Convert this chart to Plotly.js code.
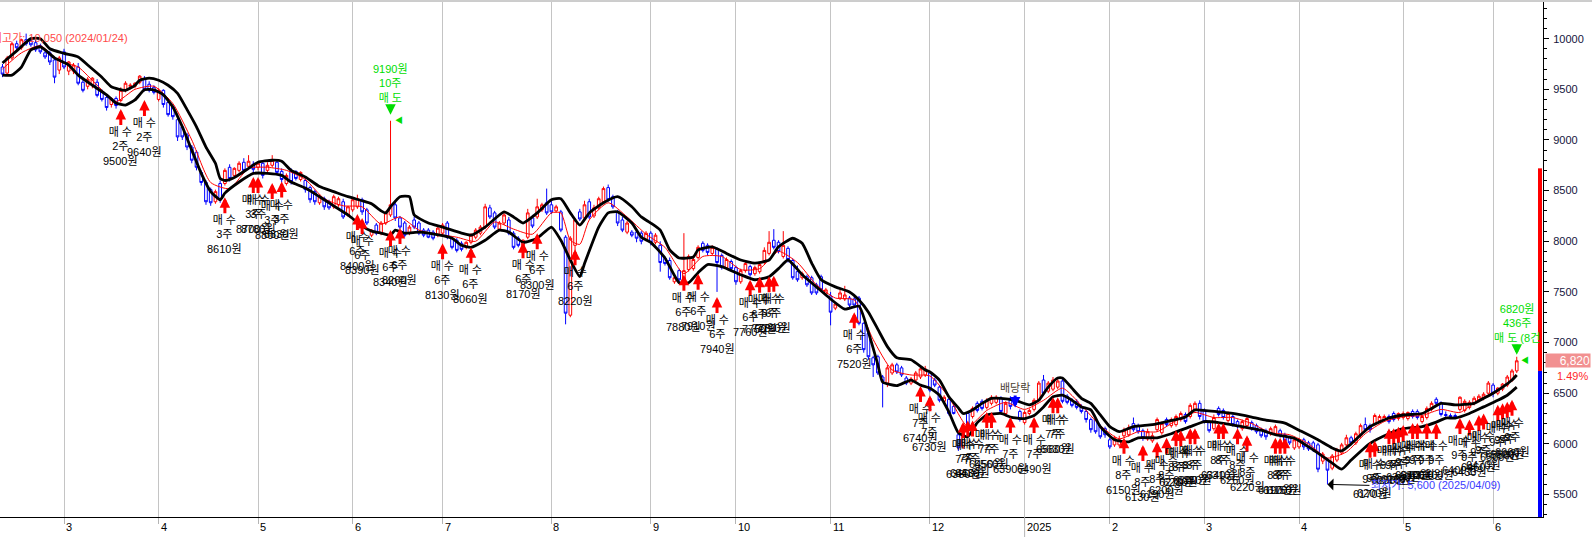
<!DOCTYPE html>
<html><head><meta charset="utf-8">
<script src="https://cdn.plot.ly/plotly-3.0.1.min.js"></script>
<style>html,body{margin:0;padding:0;background:#fff;}#chart{width:1592px;height:537px;}</style>
</head><body><div id="chart"></div>
<script>
// ---- calendar (trading days per month, first month partial) ----
const monthLabels  = ['', '3','4','5','6','7','8','9','10','11','12','2025','2','3','4','5','6'];
const monthLengths = [13,20,21,20,19,23,21,18,20,21,20,18,20,20,22,19,6];

// ---- daily candles ----
const open = [
9720,9660,9810,9950,9910,9990,9980,9960,9930,9860,
9860,9790,9690,9870,9680,9680,9720,9570,9530,9540,
9570,9480,9420,9350,9410,9390,9490,9530,9530,9570,
9600,9550,9520,9400,9490,9370,9330,9200,9130,9050,
8930,8880,8680,8580,8510,8390,8570,8570,8730,8650,
8700,8780,8740,8760,8730,8770,8700,8750,8780,8690,
8570,8690,8690,8610,8600,8530,8490,8380,8420,8390,
8340,8360,8390,8260,8310,8340,8410,8310,8060,8160,
8080,8180,8260,8360,8230,8180,8080,8210,8180,8110,
8110,8090,8060,8080,8180,8030,8010,7980,7940,7990,
8040,8080,8140,8330,8280,8120,8180,8210,8080,8030,
7960,8040,8230,8240,8310,8380,8360,8300,8290,8040,
7270,7960,8290,8230,8390,8250,8330,8390,8530,8440,
8290,8210,8090,8090,8090,8080,8020,8080,7990,7960,
7830,7810,7600,7710,7620,7720,7730,7840,7980,7960,
7880,7920,7860,7740,7800,7740,7600,7710,7750,7680,
7700,7790,7880,8010,7990,7850,7930,7810,7700,7640,
7650,7640,7570,7650,7480,7460,7340,7440,7430,7440,
7430,7440,7190,7090,6850,6860,6660,6600,6700,6780,
6750,6650,6600,6630,6660,6680,6700,6630,6560,6420,
6440,6370,6090,5970,6300,6270,6400,6420,6360,6400,
6410,6450,6300,6450,6450,6320,6210,6300,6340,6430,
6630,6520,6540,6560,6620,6470,6430,6420,6370,6320,
6240,6240,6170,6150,6040,5990,5990,6080,6090,6200,
6180,6130,6050,6030,6140,6110,6240,6180,6190,6240,
6290,6270,6340,6400,6330,6210,6150,6350,6330,6230,
6270,6220,6150,6180,6210,6180,6140,6130,6100,6100,
6130,6090,6060,5960,5970,6040,6010,6010,5990,5830,
5840,5760,5840,5910,5990,6060,6010,6080,6190,6180,
6200,6230,6240,6270,6300,6250,6260,6250,6320,6320,
6220,6260,6340,6440,6400,6290,6280,6280,6340,6330,
6360,6400,6430,6450,6500,6580,6500,6540,6580,6630,
6720];
const high = [
9750,9830,9970,9980,10000,10050,10010,9990,9950,9890,
9880,9820,9830,9900,9780,9760,9760,9600,9620,9620,
9600,9500,9440,9420,9430,9520,9580,9560,9570,9640,
9630,9580,9540,9510,9500,9380,9350,9220,9150,9070,
8950,8900,8700,8600,8530,8510,8600,8720,8760,8730,
8790,8820,8850,8790,8780,8800,8780,8850,8810,8720,
8670,8720,8700,8690,8620,8550,8510,8460,8440,8410,
8460,8440,8420,8350,8420,8460,8430,8330,8120,8180,
8200,8300,9190,8400,8250,8200,8160,8240,8200,8130,
8130,8110,8150,8180,8200,8050,8030,8000,8000,8080,
8130,8160,8370,8360,8300,8200,8280,8240,8100,8050,
8020,8320,8260,8420,8380,8520,8400,8360,8310,8060,
8050,8230,8320,8400,8420,8360,8440,8540,8560,8460,
8310,8240,8200,8110,8120,8100,8100,8100,8080,8000,
7850,7840,7650,7730,8080,7870,7840,7960,8000,7980,
7960,7940,7880,7840,7820,7760,7730,7800,7770,7760,
7790,7940,8100,8120,8010,8100,7950,7830,7760,7700,
7670,7660,7590,7670,7540,7500,7400,7530,7560,7460,
7450,7460,7200,7100,6870,6880,6680,6780,6800,6800,
6770,6670,6660,6720,6760,6770,6720,6650,6580,6480,
6460,6390,6110,6150,6320,6370,6420,6440,6450,6480,
6480,6470,6420,6470,6470,6340,6330,6350,6450,6620,
6680,6620,6660,6640,6640,6490,6450,6440,6390,6340,
6260,6260,6190,6170,6060,6080,6080,6160,6190,6260,
6200,6150,6150,6110,6260,6220,6260,6260,6290,6320,
6310,6400,6420,6430,6350,6230,6290,6370,6350,6320,
6290,6240,6240,6270,6230,6200,6160,6150,6170,6190,
6150,6110,6080,6060,6060,6060,6030,6030,6010,5920,
5860,5900,5960,6010,6090,6080,6120,6200,6260,6200,
6300,6290,6290,6290,6320,6310,6320,6320,6340,6340,
6280,6370,6420,6460,6420,6320,6300,6300,6470,6440,
6430,6470,6490,6510,6620,6600,6560,6600,6680,6740,
6860];
const low = [
9620,9640,9790,9890,9890,9930,9920,9870,9850,9800,
9740,9560,9650,9700,9640,9650,9540,9470,9500,9510,
9420,9380,9290,9320,9310,9370,9470,9500,9510,9550,
9480,9470,9450,9380,9320,9230,9200,8990,9000,8900,
8770,8700,8550,8360,8350,8370,8380,8550,8590,8630,
8680,8680,8720,8680,8700,8620,8680,8730,8650,8580,
8550,8560,8600,8590,8480,8380,8360,8360,8310,8310,
8320,8340,8220,8240,8290,8320,8260,8160,8040,8060,
8060,8160,8240,8200,8120,8040,8060,8120,8060,8040,
8030,8010,8040,8060,8020,7920,7890,7900,7920,7970,
8020,8060,8120,8220,8120,8100,8160,8060,7920,7940,
7940,8020,8130,8220,8290,8260,8270,8280,8090,7180,
7250,7900,8200,8210,8220,8230,8310,8370,8390,8320,
8150,8090,8070,8040,7990,7970,8000,7960,7970,7700,
7760,7620,7580,7600,7600,7700,7710,7820,7890,7860,
7860,7500,7720,7720,7710,7570,7580,7690,7650,7660,
7680,7770,7860,7920,7880,7830,7790,7620,7600,7620,
7550,7470,7470,7500,7460,7170,7320,7420,7410,7350,
7340,7170,6900,6830,6660,6680,6360,6560,6680,6690,
6660,6580,6580,6610,6640,6660,6510,6560,6410,6400,
6280,6290,5930,5950,6140,6250,6310,6330,6340,6380,
6390,6290,6280,6340,6370,6220,6190,6280,6320,6410,
6480,6500,6520,6540,6400,6390,6360,6340,6300,6210,
6110,6100,6050,6060,5950,5970,5970,6060,6070,6120,
6100,6030,6030,6010,6120,6090,6170,6160,6170,6220,
6200,6250,6320,6240,6200,6110,6130,6270,6240,6210,
6170,6150,6130,6160,6130,6100,6060,6040,6080,6080,
6060,6010,5990,5940,5950,5940,5930,5920,5720,5800,
5600,5740,5820,5890,5970,5990,5990,6060,6120,6110,
6180,6210,6220,6200,6220,6230,6240,6230,6250,6240,
6200,6240,6320,6380,6270,6260,6250,6250,6320,6310,
6340,6380,6410,6430,6480,6460,6480,6520,6560,6610,
6700];
const close = [
9650,9810,9950,9910,9990,9950,9940,9890,9870,9820,
9770,9620,9810,9720,9770,9740,9560,9490,9600,9610,
9440,9400,9320,9410,9340,9490,9560,9540,9560,9630,
9500,9490,9470,9490,9350,9250,9230,9030,9030,8930,
8800,8730,8580,8390,8380,8490,8410,8700,8620,8720,
8770,8700,8790,8710,8770,8650,8750,8800,8680,8610,
8650,8590,8620,8680,8510,8410,8390,8440,8340,8330,
8440,8420,8240,8340,8410,8420,8290,8180,8110,8080,
8180,8280,8360,8230,8140,8060,8140,8140,8080,8060,
8040,8030,8130,8160,8040,7940,7910,7920,7990,8060,
8110,8140,8340,8240,8140,8180,8260,8080,7940,7960,
8010,8280,8150,8340,8360,8280,8290,8340,8110,7290,
8030,8210,8220,8360,8240,8330,8420,8520,8410,8340,
8180,8110,8180,8060,8030,8000,8080,7990,8060,7790,
7780,7640,7640,7620,7710,7850,7820,7940,7910,7890,
7940,7790,7740,7820,7730,7600,7710,7780,7670,7740,
7770,7910,7990,7940,7900,7960,7820,7640,7620,7680,
7570,7490,7490,7520,7520,7300,7380,7490,7470,7370,
7370,7190,6930,6860,6780,6700,6620,6750,6780,6710,
6680,6600,6640,6700,6740,6740,6530,6580,6430,6460,
6300,6300,5960,6130,6170,6350,6330,6350,6430,6460,
6460,6320,6400,6370,6390,6240,6310,6330,6430,6600,
6500,6600,6630,6620,6420,6410,6380,6360,6320,6240,
6140,6120,6070,6090,5970,6060,6040,6130,6160,6140,
6120,6060,6120,6080,6240,6200,6190,6240,6270,6300,
6220,6380,6400,6270,6220,6130,6260,6290,6260,6300,
6190,6170,6220,6250,6150,6120,6080,6070,6150,6170,
6080,6030,6010,6040,6040,5970,5950,5940,5750,5900,
5740,5880,5940,5990,6060,6010,6100,6180,6140,6140,
6280,6270,6270,6220,6240,6300,6300,6310,6270,6260,
6270,6350,6400,6400,6290,6280,6270,6260,6460,6420,
6410,6450,6470,6490,6600,6500,6550,6590,6660,6720,
6820];

// ---- envelope lines (day index / price) ----
const upperIdx = [0,3,6,8,10,13,16,18,21,23,26,28,29,31,33,35,37,39,41,43,45,46,47,49,52,54,57,59,61,64,67,70,73,76,78,80,81,82,84,86,87,90,93,97,99,102,106,108,110,113,116,118,120,122,124,127,130,133,135,137,139,141,143,146,147,150,153,156,159,162,164,167,169,171,173,176,179,181,183,185,187,189,192,195,196,198,200,202,203,205,207,209,211,214,217,219,221,223,224,226,228,230,232,234,236,239,243,246,250,252,257,260,264,267,271,274,278,281,283,285,289,293,296,300,302,304,307,309,311,313,315,317,319,320];
const upperVal = [9760,9880,10000,10000,9900,9855,9820,9740,9620,9525,9490,9540,9590,9610,9590,9540,9460,9300,9130,8930,8770,8620,8600,8630,8720,8780,8800,8790,8700,8635,8540,8490,8440,8400,8370,8300,8280,8340,8440,8440,8260,8180,8140,8080,8060,8140,8290,8240,8180,8280,8410,8420,8280,8160,8280,8380,8440,8340,8240,8180,8110,7915,7835,7845,7915,7945,7880,7815,7785,7815,7945,8030,7980,7785,7620,7550,7500,7420,7300,7130,6960,6850,6830,6730,6710,6630,6465,6355,6300,6335,6400,6450,6450,6430,6385,6430,6560,6650,6650,6550,6450,6400,6285,6170,6120,6170,6190,6220,6265,6335,6315,6300,6265,6235,6205,6135,6040,5960,5930,6000,6170,6255,6285,6300,6350,6400,6385,6390,6400,6450,6500,6560,6630,6680];
const lowerIdx = [0,2,4,6,8,9,11,14,16,19,22,24,26,28,30,32,34,36,38,40,42,44,46,47,50,53,56,59,61,64,67,70,73,76,78,80,82,83,85,88,90,95,97,99,102,105,107,110,113,116,118,120,122,123,126,128,130,133,135,137,140,143,145,147,149,152,156,159,162,164,166,169,172,175,178,181,183,185,186,189,192,194,196,198,200,202,204,206,208,211,213,216,218,220,222,224,226,228,230,232,235,238,240,244,247,251,254,257,262,266,269,273,277,281,283,285,289,293,296,300,303,305,307,310,313,316,318,320];
const lowerVal = [9640,9640,9720,9890,9920,9890,9810,9740,9640,9540,9445,9365,9345,9395,9495,9495,9445,9325,9130,8900,8670,8490,8410,8475,8585,8670,8670,8650,8585,8525,8440,8350,8260,8150,8100,8080,8060,8110,8080,8090,8080,8030,7960,7940,8010,8110,8090,7990,8030,8140,8010,7815,7650,7780,8140,8280,8290,8180,8040,7990,7835,7590,7590,7690,7770,7750,7670,7620,7650,7730,7815,7670,7550,7430,7330,7360,7100,6780,6610,6575,6630,6580,6550,6480,6315,6110,6070,6210,6285,6300,6265,6250,6280,6365,6465,6480,6430,6365,6335,6170,6040,6020,6060,6060,6100,6170,6220,6210,6170,6135,6090,6055,5940,5810,5750,5840,6005,6100,6150,6170,6215,6255,6255,6300,6365,6430,6480,6560];
const maIdx = [0,4,8,12,16,20,24,28,32,36,40,44,48,52,56,60,64,68,72,76,80,84,88,92,96,100,104,108,112,116,118,120,122,124,128,132,136,140,144,148,152,156,160,164,168,172,176,180,184,188,192,196,200,204,208,212,216,220,224,228,232,236,240,244,248,252,256,260,264,268,272,276,280,284,288,292,296,300,304,308,312,316,320];
const maVal = [9700,9860,9930,9780,9720,9540,9380,9500,9530,9360,9000,8580,8520,8720,8730,8700,8610,8420,8350,8340,8170,8240,8110,8070,8040,8000,8190,8120,8070,8280,8280,8010,7970,8210,8380,8240,8070,7940,7680,7850,7850,7720,7730,7900,7790,7570,7440,7420,7030,6730,6680,6670,6460,6170,6330,6410,6340,6430,6550,6380,6180,6050,6120,6120,6230,6310,6260,6260,6200,6110,6090,6000,5860,5920,6100,6220,6270,6280,6340,6310,6440,6520,6670];

// ---- trade markers ----
const buyIdx   = [25,30,47,53,54,57,59,75,76,82,84,93,99,110,113,121,144,147,151,158,160,162,163,180,194,196,203,204,205,208,209,213,218,222,223,237,241,244,246,248,249,251,252,257,258,261,263,269,270,271,289,290,293,294,295,296,298,299,301,303,308,310,312,313,316,317,318,319];
const buyTip   = [9305,9395,8435,8635,8635,8575,8590,8270,8230,8110,8130,7980,7940,7990,8080,7920,7670,7680,7450,7620,7650,7655,7660,7300,6570,6480,6215,6230,6230,6315,6315,6265,6265,6460,6460,6060,5990,6020,6060,6135,6135,6155,6155,6205,6205,6155,6085,6060,6060,6060,6020,6030,6155,6155,6170,6185,6205,6205,6205,6205,6255,6240,6285,6300,6385,6400,6415,6435];
const buyQty   = [2,2,3,3,3,3,3,6,6,6,6,6,6,6,6,6,6,6,6,6,6,6,6,6,7,7,7,7,7,7,7,7,7,7,7,8,8,8,8,8,8,8,8,8,8,8,8,8,8,8,9,9,9,9,9,9,9,9,9,9,9,9,9,9,9,9,9,9];
const buyPrice = [9500,9640,8610,8700,8780,8800,8830,8400,8390,8340,8260,8130,8060,8170,8300,8220,7880,7910,7940,7760,7750,7780,7790,7520,6740,6730,6380,6450,6430,6450,6560,6390,6490,6580,6630,6150,6130,6190,6200,6270,6280,6300,6350,6340,6310,6260,6220,6190,6170,6150,6170,6200,6290,6270,6260,6300,6310,6300,6330,6400,6400,6430,6460,6470,6500,6550,6590,6660];
const sellIdx   = [82,320];
const sellPrice = [9190,6820];
const sellQty   = [10,436];
const sellNote  = ['매 도','매 도 (8건'];
const dividendIdx = 214, dividendTip = 6360;

// ---- reference levels ----
const maxInfo = {price:10050, date:'2024/01/24'};
const minInfo = {idx:280, price:5600, date:'2025/04/09'};
const prevClose = 6720, upperLimit = 8720;

// ================== build ==================
const x = close.map((_, i) => i);
const monthStarts = [];
monthLengths.reduce((acc, n) => { monthStarts.push(acc); return acc + n; }, 0);

const Y0 = 5278, Y1 = 10362;
const FONT = 'Liberation Sans, Noto Sans CJK KR, sans-serif';

const traces = [
  {type:'candlestick', x:x, open:open, high:high, low:low, close:close,
   increasing:{line:{color:'#ff0000', width:1}, fillcolor:'#ffffff'},
   decreasing:{line:{color:'#0000ff', width:1}, fillcolor:'#ffffff'},
   whiskerwidth:0, hoverinfo:'skip', showlegend:false},
  {type:'scatter', mode:'lines', x:maIdx, y:maVal, line:{color:'#ff0000', width:1, shape:'spline', smoothing:0.6}, hoverinfo:'skip'},
  {type:'scatter', mode:'lines', x:upperIdx, y:upperVal, line:{color:'#000000', width:2.8, shape:'spline', smoothing:0.5}, hoverinfo:'skip'},
  {type:'scatter', mode:'lines', x:lowerIdx, y:lowerVal, line:{color:'#000000', width:2.8, shape:'spline', smoothing:0.5}, hoverinfo:'skip'}
];

const ann = [];
// month labels
for (let i = 1; i < monthLabels.length; i++) {
  ann.push({x:monthStarts[i], y:0, xref:'x', yref:'paper', text:monthLabels[i], showarrow:false,
            xanchor:'left', yanchor:'top', yshift:-2, xshift:0, font:{size:11, color:'#000'}});
}
// buy markers
for (let i = 0; i < buyIdx.length; i++) {
  ann.push({x:buyIdx[i], y:buyTip[i], xref:'x', yref:'y',
            text:'매 수<br>' + buyQty[i] + '주<br>' + buyPrice[i] + '원',
            showarrow:true, arrowhead:2, arrowsize:0.7, arrowwidth:3, arrowcolor:'#ff0000',
            ax:0, ay:16, xanchor:'center', yanchor:'top', standoff:0, borderpad:0,
            font:{size:11, color:'#000'}});
}
// sell markers
for (let i = 0; i < sellIdx.length; i++) {
  ann.push({x:sellIdx[i], y:sellPrice[i], xref:'x', yref:'y',
            text:sellPrice[i] + '원<br>' + sellQty[i] + '주<br>' + sellNote[i],
            showarrow:true, arrowhead:2, arrowsize:0.7, arrowwidth:3, arrowcolor:'#00dd00',
            ax:0, ay:-16, xanchor:'center', yanchor:'bottom', standoff:6, borderpad:0,
            font:{size:11, color:'#00dd00'}});
  ann.push({x:sellIdx[i], y:sellPrice[i], xref:'x', yref:'y', text:'◀', showarrow:false,
            xshift:8, font:{size:8, color:'#00dd00'}});
}
// dividend
ann.push({x:dividendIdx, y:dividendTip, xref:'x', yref:'y', text:'배당락', showarrow:true,
          arrowhead:2, arrowsize:0.7, arrowwidth:3, arrowcolor:'#0000ff', ax:0, ay:-12,
          xanchor:'center', yanchor:'bottom', borderpad:0, font:{size:11, color:'#4a4030'}});
// max / min labels
ann.push({xref:'paper', x:0, yref:'y', y:maxInfo.price, yshift:-4, xshift:-10, xanchor:'left',
          text:'최고가: ' + maxInfo.price.toLocaleString('en-US') + ' (' + maxInfo.date + ')',
          showarrow:false, font:{size:11, color:'#ff4a4a'}});
ann.push({x:minInfo.idx, y:minInfo.price, xref:'x', yref:'y',
          text:'최저가: ' + minInfo.price.toLocaleString('en-US') + ' (' + minInfo.date + ')',
          showarrow:true, arrowhead:1, arrowsize:2, arrowwidth:1, arrowcolor:'#000', ax:42, ay:1,
          xanchor:'left', yanchor:'middle', font:{size:11, color:'#3c3cff'}});
// current price box & change
const last = close[close.length - 1];
ann.push({xref:'paper', x:1, yref:'y', y:last, xanchor:'left', xshift:2, text:last.toLocaleString('en-US'),
          showarrow:false, bgcolor:'#f29090', width:44, height:13, align:'right', borderpad:0,
          font:{size:12, color:'#ffffff'}});
ann.push({xref:'paper', x:1, yref:'y', y:last, yshift:-15, xanchor:'left', xshift:12,
          text:((last - prevClose) / prevClose * 100).toFixed(2) + '%', showarrow:false,
          font:{size:11, color:'#ff2a2a'}});

const plotW = 1543, plotH = 515;
const shapes = [
  {type:'line', xref:'paper', yref:'paper', x0:0, x1:1592/plotW, y0:1 + 1/plotH, y1:1 + 1/plotH, line:{color:'#9a9a9a', width:1}},
  {type:'rect', xref:'paper', yref:'y', x0:(plotW-5)/plotW, x1:(plotW-1)/plotW, y0:prevClose, y1:upperLimit, fillcolor:'#ff0000', line:{width:0}},
  {type:'rect', xref:'paper', yref:'y', x0:(plotW-5)/plotW, x1:(plotW-1)/plotW, y0:Y0, y1:prevClose, fillcolor:'#0000ff', line:{width:0}},
  {type:'line', xref:'x', yref:'paper', x0:monthStarts[11], x1:monthStarts[11], y0:0, y1:-20/plotH, line:{color:'#b4b4b4', width:1}}
];

const layout = {
  width:1592, height:537, margin:{l:0, r:49, t:2, b:20, pad:0},
  paper_bgcolor:'#ffffff', plot_bgcolor:'#ffffff', showlegend:false,
  font:{family:FONT, size:11, color:'#000'},
  boxgap:0.2,
  xaxis:{range:[-0.526, 325.55], tickmode:'array', tickvals:monthStarts.slice(1), showticklabels:false,
         ticks:'outside', ticklen:6, tickcolor:'#b4b4b4', showgrid:true, gridcolor:'#c4c4c4', gridwidth:1,
         zeroline:false, showline:true, linecolor:'#000', linewidth:1, rangeslider:{visible:false}, fixedrange:true},
  yaxis:{side:'right', range:[Y0, Y1], tick0:0, dtick:500, tickformat:'d', ticks:'outside', ticklen:5, tickcolor:'#000',
         showline:true, linecolor:'#000', linewidth:1, showgrid:false, zeroline:false,
         tickfont:{size:11, color:'#14143c'}, ticklabelstandoff:2,
         minor:{dtick:100, ticks:'outside', ticklen:3, tickcolor:'#000', showgrid:false}, fixedrange:true},
  shapes:shapes, annotations:ann
};

Plotly.newPlot('chart', traces, layout, {staticPlot:true, displayModeBar:false});
</script>
</body></html>
